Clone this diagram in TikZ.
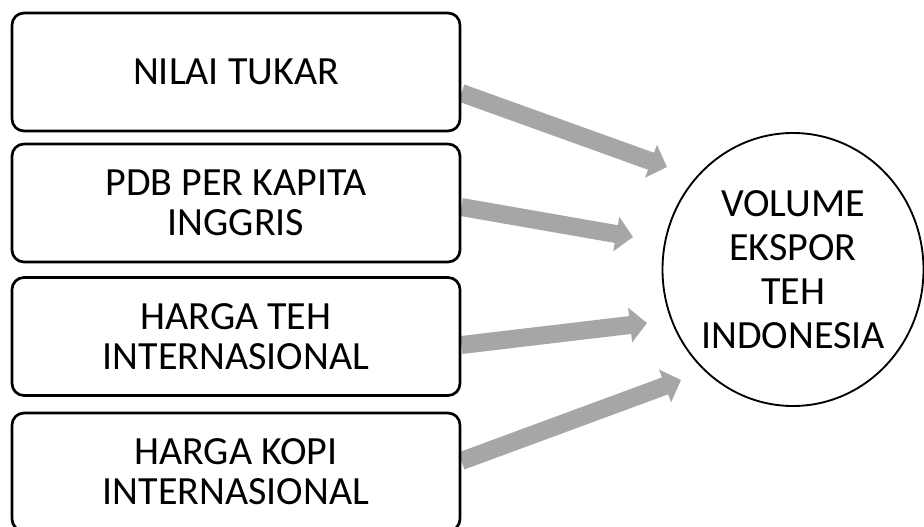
\documentclass[tikz,border=0pt]{standalone}
\usepackage{fontspec}
\setmainfont{Carlito}
\usetikzlibrary{positioning,arrows.meta,shapes.geometric,backgrounds}

\begin{document}
\begin{tikzpicture}[x=0.75pt,y=-0.75pt,
    factor/.style={draw, line width=2pt, rounded corners=9pt, fill=white,
      minimum width=336pt, minimum height=88.5pt, align=center,
      font=\fontsize{30}{30}\selectfont},
    target/.style={ellipse, draw, line width=1.4pt, fill=white, inner sep=0pt,
      minimum width=195.75pt, minimum height=204.75pt, align=center,
      font=\fontsize{30}{33}\selectfont},
    flow/.style={draw=black!35, line width=13.5pt,
      -{Triangle[length=12.75pt,width=25.5pt]}}]

  \useasboundingbox (0,0) rectangle (924,527);

  % Factors
  \node[factor] (nilai) at (236,72) {NILAI TUKAR};
  \node[factor] (pdb) at (236,203) {PDB PER KAPITA\\INGGRIS};
  \node[factor] (teh) at (236,336.5) {HARGA TEH\\INTERNASIONAL};
  \node[factor] (kopi) at (236,472) {HARGA KOPI\\INTERNASIONAL};

  % Outcome
  \node[target] (ekspor) at (793,269.5) {VOLUME\\EKSPOR\\TEH\\INDONESIA};

  % Arrow tips
  \coordinate (t1) at (667,167);
  \coordinate (t2) at (633,237);
  \coordinate (t3) at (647,323);
  \coordinate (t4) at (681,380);

  % Arrows
  \begin{scope}[on background layer]
    \draw[flow] ([yshift=-15.75pt]nilai.east) -- (t1);
    \draw[flow] ([yshift=-3pt]pdb.east) -- (t2);
    \draw[flow] ([yshift=-6.4pt]teh.east) -- (t3);
    \draw[flow] ([yshift=8.25pt]kopi.east) -- (t4);
  \end{scope}

\end{tikzpicture}
\end{document}
